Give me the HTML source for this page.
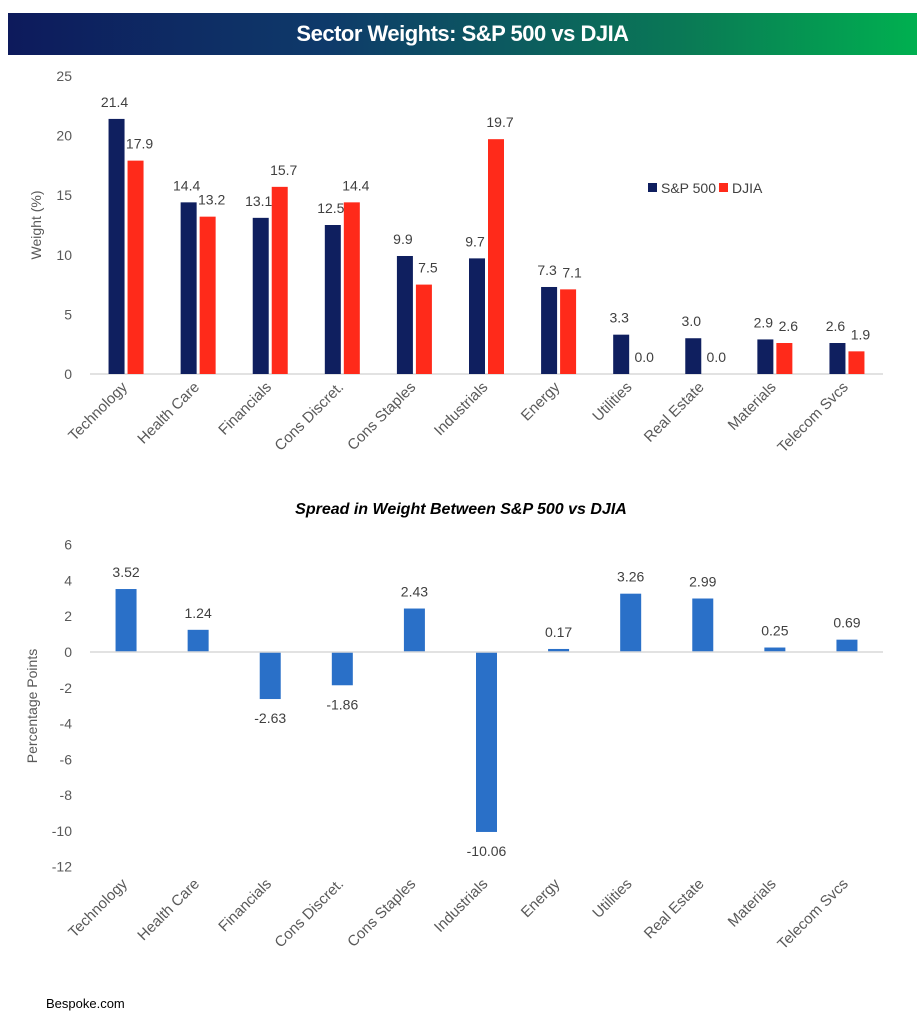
<!DOCTYPE html>
<html><head><meta charset="utf-8"><style>
body{margin:0;background:#fff;width:923px;height:1014px;overflow:hidden;font-family:"Liberation Sans",sans-serif}
#title{position:absolute;left:8px;top:13px;width:909px;height:42px;background:linear-gradient(90deg,#0d1a5c 0%,#0e3a6a 35%,#0a7a55 75%,#00b050 100%);color:#fff;font-weight:bold;font-size:22px;text-align:center;line-height:42px;letter-spacing:-0.5px}
svg{position:absolute;left:0;top:0}
text{font-family:"Liberation Sans",sans-serif}
</style></head><body>
<div id="title">Sector Weights: S&amp;P 500 vs DJIA</div>
<svg id="svg" width="923" height="1014"></svg>
<div style="position:absolute;left:46px;top:996px;font-size:13px;color:#000">Bespoke.com</div>
<script>
const categories=["Technology","Health Care","Financials","Cons Discret.","Cons Staples","Industrials","Energy","Utilities","Real Estate","Materials","Telecom Svcs"];
const spx=[21.4,14.4,13.1,12.5,9.9,9.7,7.3,3.3,3.0,2.9,2.6];
const djia=[17.9,13.2,15.7,14.4,7.5,19.7,7.1,0.0,0.0,2.6,1.9];
const spread=[3.52,1.24,-2.63,-1.86,2.43,-10.06,0.17,3.26,2.99,0.25,0.69];
const topTicks=[0,5,10,15,20,25];
const botTicks=[6,4,2,0,-2,-4,-6,-8,-10,-12];
const NS="http://www.w3.org/2000/svg";
const svg=document.getElementById('svg');
function mk(tag,attrs,txt){const e=document.createElementNS(NS,tag);for(const k in attrs)e.setAttribute(k,attrs[k]);if(txt!==undefined)e.textContent=txt;svg.appendChild(e);return e;}
const x0=90,x1=883,cw=(x1-x0)/categories.length;
const cx=i=>x0+cw*(i+0.5);
// top chart
const yT=v=>374-v*(374-76)/25;
topTicks.forEach(t=>{const e=mk('text',{x:72,y:yT(t)+5,'text-anchor':'end','font-size':14,fill:'#595959'},t);

});
let e=mk('text',{transform:'translate(41,225) rotate(-90)','text-anchor':'middle','font-size':14,fill:'#595959'},'Weight (%)');


e=mk('line',{x1:x0,x2:x1,y1:yT(0),y2:yT(0),stroke:'#d9d9d9','stroke-width':1.5});


categories.forEach((c,i)=>{
 const bw=16,g=3;
 const xa=cx(i)-g/2-bw, xb=cx(i)+g/2;
 let r=mk('rect',{x:xa,y:yT(spx[i]),width:bw,height:yT(0)-yT(spx[i]),fill:'#0f1f5f'});
 
 
 r=mk('rect',{x:xb,y:yT(djia[i]),width:bw,height:yT(0)-yT(djia[i]),fill:'#ff2a1a'});
 
 
 let t=mk('text',{x:xa+bw/2-2,y:yT(spx[i])-12,'text-anchor':'middle','font-size':14,fill:'#404040'},spx[i].toFixed(1));
 
 
 t=mk('text',{x:xb+bw/2+4,y:yT(djia[i])-12,'text-anchor':'middle','font-size':14,fill:'#404040'},djia[i].toFixed(1));
 
 
 t=mk('text',{transform:`translate(${cx(i)+2},${yT(0)+14}) rotate(-45)`,'text-anchor':'end','font-size':15,fill:'#595959'},c);
 
 
});
e=mk('rect',{x:648,y:183,width:9,height:9,fill:'#0f1f5f'});


e=mk('text',{x:661,y:193,'font-size':14,fill:'#404040'},'S&P 500');


e=mk('rect',{x:719,y:183,width:9,height:9,fill:'#ff2a1a'});


e=mk('text',{x:732,y:193,'font-size':14,fill:'#404040'},'DJIA');


// bottom chart
e=mk('text',{x:461,y:514,'text-anchor':'middle','font-size':16,'font-weight':'bold','font-style':'italic',fill:'#000'},'Spread in Weight Between S&P 500 vs DJIA');


const yB=v=>652-v*(867-545)/18;
botTicks.forEach(t=>{const el=mk('text',{x:72,y:yB(t)+5,'text-anchor':'end','font-size':14,fill:'#595959'},t);

});
e=mk('text',{transform:'translate(37,706) rotate(-90)','text-anchor':'middle','font-size':14,fill:'#595959'},'Percentage Points');


categories.forEach((c,i)=>{
 const bw=21,v=spread[i];
 const top=Math.min(yB(v),yB(0)),h=Math.abs(yB(v)-yB(0));
 let r=mk('rect',{x:cx(i)-bw/2,y:top,width:bw,height:h,fill:'#2a70c8'});
 
 
 const ly=v>=0?yB(v)-12:yB(v)+24;
 let t=mk('text',{x:cx(i),y:ly,'text-anchor':'middle','font-size':14,fill:'#404040'},v.toFixed(2));
 
 
 t=mk('text',{transform:`translate(${cx(i)+2},${yB(-12)+18}) rotate(-45)`,'text-anchor':'end','font-size':15,fill:'#595959'},c);
 
 
});
e=mk('line',{x1:x0,x2:x1,y1:yB(0),y2:yB(0),stroke:'#d9d9d9','stroke-width':1.5});


</script>
</body></html>
